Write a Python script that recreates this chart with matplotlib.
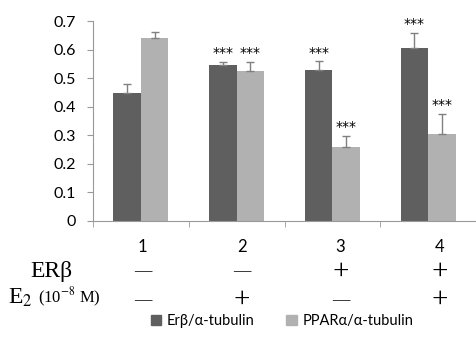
"""Grouped bar chart: ERb and PPARa relative to alpha-tubulin, four conditions."""

import matplotlib
matplotlib.use("Agg")
import matplotlib.pyplot as plt
import numpy as np
from matplotlib.patches import Patch

plt.rcParams["font.family"] = ["Lato", "DejaVu Sans"]
plt.rcParams["mathtext.fontset"] = "stix"

groups = ["1", "2", "3", "4"]
erb_mean = [0.45, 0.545, 0.528, 0.607]
erb_err = [0.031, 0.012, 0.031, 0.052]
ppar_mean = [0.640, 0.525, 0.259, 0.305]
ppar_err = [0.022, 0.032, 0.039, 0.071]
erb_stars = ["", "***", "***", "***"]
ppar_stars = ["", "***", "***", "***"]
erb_row = ["-", "-", "+", "+"]
e2_row = ["-", "+", "-", "+"]

DARK = "#5f5f5f"
LIGHT = "#b1b1b1"
W = 0.287

fig = plt.figure(figsize=(4.76, 3.38), dpi=100)
ax = fig.add_axes([93 / 476, 1 - 220.7 / 338, (476 - 93) / 476, (220.7 - 21.3) / 338])

x = np.arange(len(groups))
ekw = dict(ecolor="#808080", elinewidth=1.0, capsize=3, capthick=1.0)
ax.bar(x - W, erb_mean, W, align="edge", color=DARK,
       yerr=[np.zeros(4), erb_err], error_kw=ekw)
ax.bar(x, ppar_mean, W, align="edge", color=LIGHT,
       yerr=[np.zeros(4), ppar_err], error_kw=ekw)

for i in range(len(groups)):
    if erb_stars[i]:
        ax.text(x[i] - W / 2, erb_mean[i] + erb_err[i] + 0.006, erb_stars[i],
                ha="center", va="bottom", fontsize=10, family="DejaVu Sans")
    if ppar_stars[i]:
        ax.text(x[i] + W / 2, ppar_mean[i] + ppar_err[i] + 0.006, ppar_stars[i],
                ha="center", va="bottom", fontsize=10, family="DejaVu Sans")

ax.set_ylim(0, 0.7)
ax.set_yticks(np.arange(0, 0.71, 0.1))
ax.set_yticklabels(["0", "0.1", "0.2", "0.3", "0.4", "0.5", "0.6", "0.7"], fontsize=11.5)
ax.set_xlim(-0.5, -0.5 + (476 - 93) / 99)
ax.set_xticks([])
ax.set_xticks(np.arange(-0.5, 4, 1.0), minor=True)
ax.tick_params(axis="x", which="minor", length=4, color="#999999")
ax.tick_params(axis="y", length=4, color="#999999", pad=8)
for s in ["top", "right"]:
    ax.spines[s].set_visible(False)
ax.spines["left"].set_color("#999999")
ax.spines["bottom"].set_color("#999999")


def sign(xc, yc, s):
    # long thin dash for "-", large serif plus for "+"
    if s == "-":
        fig.text(xc, yc, "—", ha="center", va="center", fontsize=12.5,
                 family="Liberation Serif")
    else:
        fig.text(xc, yc, "+", ha="center", va="center", fontsize=21,
                 family="Liberation Serif")


for i in range(len(groups)):
    xc = (93 + 99 * i + 49.5) / 476
    fig.text(xc, 1 - 246.7 / 338, groups[i], ha="center", va="center", fontsize=12)
    sign(xc, 1 - 271.5 / 338, erb_row[i])
    sign(xc, 1 - 300 / 338, e2_row[i])

fig.text(51.5 / 476, 1 - 271.5 / 338, "ERβ", ha="center", va="center",
         fontsize=17, family="Liberation Serif")
fig.text(8 / 476, 1 - 298 / 338, r"E$_2$", ha="left", va="center", fontsize=17,
         family="Liberation Serif")
fig.text(38 / 476, 1 - 297 / 338, r"(10$^{-8}$ M)", ha="left", va="center",
         fontsize=12, family="Liberation Serif")

handles = [Patch(color=DARK), Patch(color=LIGHT)]
fig.legend(handles, ["Erβ/α-tubulin", "PPARα/α-tubulin"], loc="center",
           bbox_to_anchor=(282 / 476, 1 - 321 / 338), ncol=2, frameon=False,
           fontsize=10.5, handlelength=0.7, handleheight=0.7, handletextpad=0.4,
           columnspacing=2.2)

fig.savefig("out.png", dpi=100)
